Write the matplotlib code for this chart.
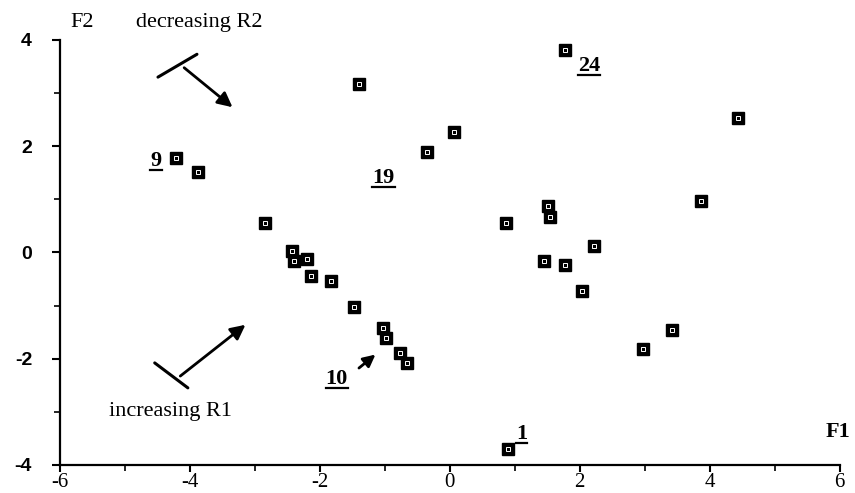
import matplotlib
matplotlib.use('Agg')
import matplotlib.pyplot as plt
from matplotlib.ticker import MultipleLocator

# F1 / F2 scores of the samples
f1 = [1.77, -1.40, 4.43, 0.06, -4.22, -3.88, -0.35, -2.85, 0.86, 1.51,
      1.55, 3.86, 2.22, -2.43, -2.40, -2.20, -2.14, -1.83, 1.45, 1.77,
      2.03, -1.48, -1.02, -0.98, -0.77, -0.65, 2.98, 3.42, 0.89]
f2 = [3.81, 3.17, 2.53, 2.27, 1.78, 1.52, 1.89, 0.56, 0.56, 0.88,
      0.66, 0.96, 0.13, 0.02, -0.17, -0.13, -0.45, -0.54, -0.17, -0.24,
      -0.73, -1.03, -1.43, -1.61, -1.90, -2.08, -1.82, -1.46, -3.71]

# numbered samples and where their labels sit
sample_ids = ['24', '19', '9', '10', '1']
id_x = [2.15, -1.02, -4.52, -1.74, 1.11]
id_y = [3.50, 1.40, 1.72, -2.38, -3.42]

xticks = [-6, -4, -2, 0, 2, 4, 6]
yticks = [-4, -2, 0, 2, 4]

fig = plt.figure(figsize=(8.55, 4.93), dpi=100)
ax = fig.add_axes([0.070, 0.057, 0.912, 0.862])

ax.plot(f1, f2, 's', color='black', ms=8.5, zorder=3)
ax.plot(f1, f2, 's', mfc='none', mec='white', ms=3, mew=0.7, zorder=4)

ax.set_xlim(-6, 6)
ax.set_ylim(-4, 4)

labels = []
for s, x, y in zip(sample_ids, id_x, id_y):
    t = ax.text(x, y, s, family='Liberation Serif', fontsize=16,
                fontweight='bold', ha='center', va='center')
    labels.append(t)

# underline the sample numbers
fig.canvas.draw()
r = fig.canvas.get_renderer()
inv = ax.transData.inverted()
for t in labels:
    bb = t.get_window_extent(r)
    (x0, y0), (x1, y1) = inv.transform([(bb.x0, bb.y0), (bb.x1, bb.y1)])
    ax.plot([x0, x1], [y0 + 0.02, y0 + 0.02], 'k-', lw=1.6)

# T-shaped direction arrows
ax.plot([-4.49, -3.89], [3.30, 3.73], 'k-', lw=2.2, solid_capstyle='round')
ax.annotate('', xy=(-3.31, 2.70), xytext=(-4.12, 3.51),
            arrowprops=dict(arrowstyle='-|>', color='black', lw=2,
                            mutation_scale=22))
ax.plot([-4.54, -4.03], [-2.08, -2.55], 'k-', lw=2.2, solid_capstyle='round')
ax.annotate('', xy=(-3.11, -1.33), xytext=(-4.18, -2.36),
            arrowprops=dict(arrowstyle='-|>', color='black', lw=2,
                            mutation_scale=22))
ax.annotate('', xy=(-1.11, -1.89), xytext=(-1.43, -2.21),
            arrowprops=dict(arrowstyle='-|>', color='black', lw=2,
                            mutation_scale=18))

ax.text(-5.65, 4.32, 'F2', family='Liberation Serif', fontsize=16,
        ha='center', va='center')
ax.text(-3.85, 4.32, 'decreasing R2', family='Liberation Serif', fontsize=16,
        ha='center', va='center')
ax.text(-4.3, -3.0, 'increasing R1', family='Liberation Serif', fontsize=16,
        ha='center', va='center')
ax.text(5.98, -3.38, 'F1', family='Liberation Serif', fontsize=16,
        fontweight='bold', ha='center', va='center')

ax.set_xticks(xticks)
ax.set_yticks(yticks)
ax.xaxis.set_minor_locator(MultipleLocator(1))
ax.yaxis.set_minor_locator(MultipleLocator(1))
ax.set_xticklabels([str(t) for t in xticks], family='Liberation Serif',
                   fontsize=15)
ax.set_yticklabels([str(t) for t in yticks], family='Liberation Sans',
                   fontsize=14, fontweight='bold')
ax.tick_params(axis='x', which='major', direction='out', length=5, width=1.5,
               pad=0.5)
ax.tick_params(axis='y', which='major', direction='out', length=6, width=1.5,
               pad=14)
ax.tick_params(which='minor', direction='out', length=4, width=1.2)
ax.spines['top'].set_visible(False)
ax.spines['right'].set_visible(False)
ax.spines['left'].set_linewidth(1.6)
ax.spines['bottom'].set_linewidth(1.6)

fig.savefig('out.png', dpi=100)
